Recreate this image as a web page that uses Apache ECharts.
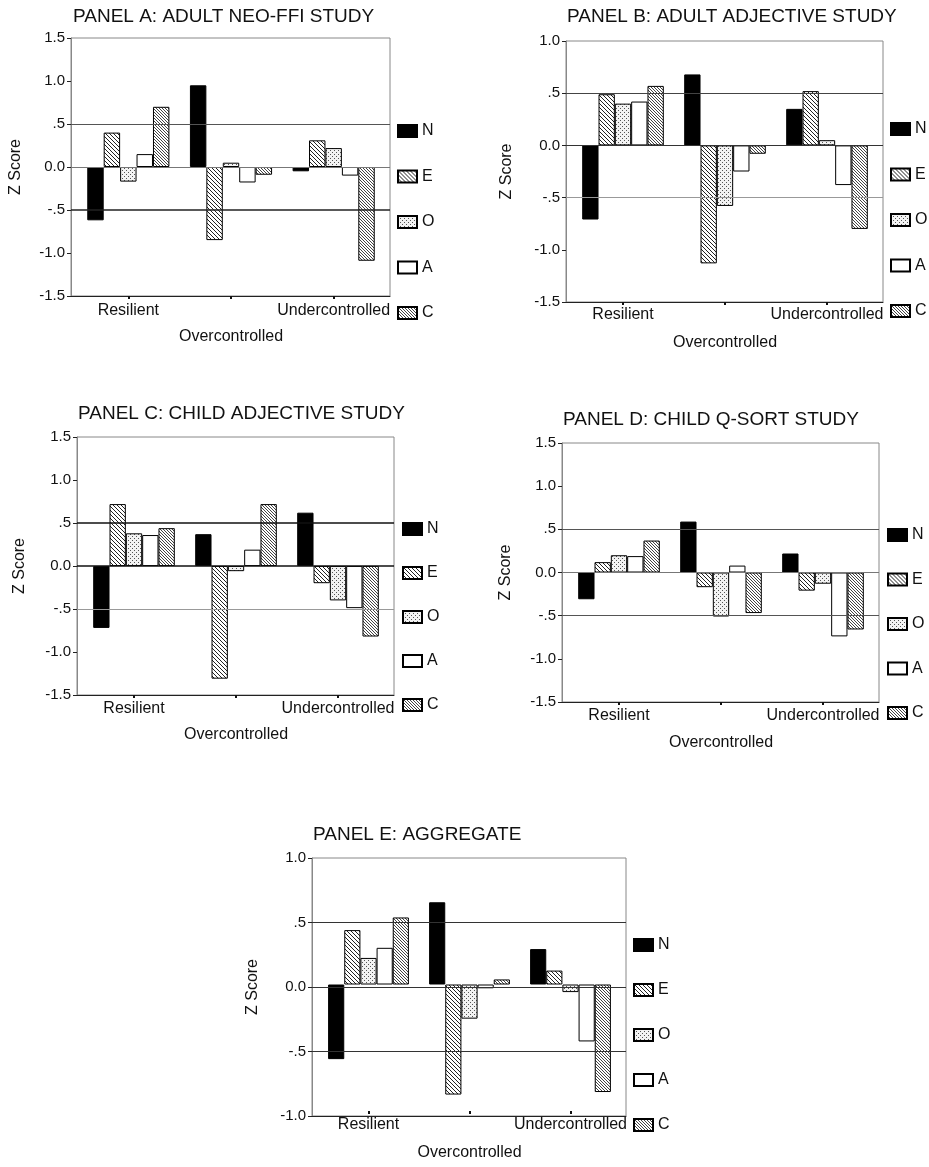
<!DOCTYPE html>
<html>
<head>
<meta charset="utf-8">
<title>Z Score by personality type</title>
<script src="https://cdn.jsdelivr.net/npm/echarts@6/dist/echarts.min.js"></script>
<style>
  html, body { margin: 0; padding: 0; background: #fff; }
  #chart { width: 929px; height: 1167px; }
</style>
</head>
<body>
<div id="chart"></div>
<script>
// categories and trait series
var categories = ['Resilient', 'Overcontrolled', 'Undercontrolled'];
var traits = ['N', 'E', 'O', 'A', 'C'];
var titles = [
  'PANEL A: ADULT NEO-FFI STUDY',
  'PANEL B: ADULT ADJECTIVE STUDY',
  'PANEL C: CHILD ADJECTIVE STUDY',
  'PANEL D: CHILD Q-SORT STUDY',
  'PANEL E: AGGREGATE'
];

// one row per trait (N, E, O, A, C), values in category order
var panelA = [
  [-0.62, 0.95, -0.05],
  [0.40, -0.85, 0.31],
  [-0.17, 0.05, 0.22],
  [0.15, -0.18, -0.10],
  [0.70, -0.09, -1.09]
];
var panelB = [
  [-0.71, 0.68, 0.35],
  [0.49, -1.13, 0.52],
  [0.40, -0.58, 0.05],
  [0.42, -0.25, -0.38],
  [0.57, -0.08, -0.80]
];
var panelC = [
  [-0.72, 0.37, 0.62],
  [0.72, -1.31, -0.20],
  [0.38, -0.06, -0.40],
  [0.36, 0.19, -0.49],
  [0.44, 0.72, -0.82]
];
var panelD = [
  [-0.31, 0.59, 0.22],
  [0.12, -0.17, -0.21],
  [0.20, -0.51, -0.13],
  [0.19, 0.08, -0.74],
  [0.37, -0.47, -0.66]
];
var panelE = [
  [-0.59, 0.65, 0.28],
  [0.43, -0.87, 0.11],
  [0.21, -0.27, -0.06],
  [0.29, -0.03, -0.45],
  [0.53, 0.04, -0.85]
];
var panels = [panelA, panelB, panelC, panelD, panelE];

// y-axis ranges and reference lines
var yMins = [-1.5, -1.5, -1.5, -1.5, -1.0];
var yMaxs = [1.5, 1.0, 1.5, 1.5, 1.0];
var refValues = [0.5, 0, -0.5];

// positions / styling per panel
var layout = [
  { left: 71, top: 38, width: 319, height: 258, nameGap: 47, labMargin: 2, labLine: 26, legLeft: 397, legTop: 123, legStep: 41.5, tLeft: 73, tTop: 7,
    refs: [['#555', 1], ['#777', 1], ['#222', 1.6]] },
  { left: 566, top: 41, width: 317, height: 261, nameGap: 51, labMargin: -1, labLine: 28, legLeft: 890, legTop: 121, legStep: 41.5, tLeft: 567, tTop: 7,
    refs: [['#444', 1], ['#333', 1], ['#999', 1]] },
  { left: 77, top: 437, width: 317, height: 258, nameGap: 49, labMargin: 1, labLine: 26, legLeft: 402, legTop: 521, legStep: 40, tLeft: 78, tTop: 404,
    refs: [['#111', 1.6], ['#111', 1.6], ['#999', 1]] },
  { left: 562, top: 443, width: 317, height: 259, nameGap: 48, labMargin: 0, labLine: 27, legLeft: 887, legTop: 527, legStep: 40.5, tLeft: 563, tTop: 410,
    refs: [['#555', 1], ['#777', 1], ['#555', 1]] },
  { left: 312, top: 858, width: 314, height: 258, nameGap: 51, labMargin: 0, labLine: 28, legLeft: 633, legTop: 937, legStep: 41, tLeft: 313, tTop: 825,
    refs: [['#333', 1], ['#333', 1], ['#333', 1]] }
];

var FONT = '"Liberation Sans", Arial, Helvetica, sans-serif';

function hatch(step, color) {
  var c = document.createElement('canvas');
  c.width = step; c.height = step;
  var g = c.getContext('2d');
  g.fillStyle = '#fff';
  g.fillRect(0, 0, step, step);
  g.strokeStyle = color;
  g.lineWidth = 1;
  g.beginPath();
  g.moveTo(-1, -1); g.lineTo(step + 1, step + 1);
  g.moveTo(step - 1, -1); g.lineTo(step + 1, 1);
  g.moveTo(-1, step - 1); g.lineTo(1, step + 1);
  g.stroke();
  return c;
}

function dots() {
  var c = document.createElement('canvas');
  c.width = 4; c.height = 4;
  var g = c.getContext('2d');
  g.fillStyle = '#f3f3f3';
  g.fillRect(0, 0, 4, 4);
  g.fillStyle = '#555';
  g.fillRect(0, 0, 1, 1);
  g.fillRect(2, 2, 1, 1);
  return c;
}

var fills = {
  N: '#000',
  E: { image: hatch(4, '#222'), repeat: 'repeat' },
  O: { image: dots(), repeat: 'repeat' },
  A: '#fff',
  C: { image: hatch(3, '#444'), repeat: 'repeat' }
};

function fmtZ(v) {
  if (v === 0) return '0.0';
  if (Math.abs(v) < 1) return (v < 0 ? '-' : '') + '.5';
  return v.toFixed(1);
}

var option = {
  animation: false,
  textStyle: { fontFamily: FONT, color: '#111' },
  title: [], legend: [], grid: [], xAxis: [], yAxis: [], series: []
};

panels.forEach(function (p, k) {
  var L = layout[k];
  var fi = 2 * k, di = 2 * k + 1;

  option.title.push({
    text: titles[k], left: L.tLeft, top: L.tTop, padding: 0,
    textStyle: { fontFamily: FONT, fontSize: 19, fontWeight: 'normal', color: '#111' }
  });

  option.legend.push({
    data: traits, orient: 'vertical', left: L.legLeft, top: L.legTop, padding: 0,
    icon: 'rect', itemWidth: 19, itemHeight: 12, itemGap: L.legStep - 12,
    selectedMode: false,
    textStyle: { fontFamily: FONT, fontSize: 16, lineHeight: 12, color: '#111' }
  });

  // frame grid (box, y axis, reference lines)
  option.grid.push({ left: L.left, top: L.top, width: L.width, height: L.height,
    show: true, borderColor: '#888', borderWidth: 1, backgroundColor: 'transparent' });
  // data grid (bars, categories), slightly inset like the original
  option.grid.push({ left: L.left + 6, top: L.top, width: L.width - 11, height: L.height });

  option.xAxis.push({
    gridIndex: fi, type: 'value', min: 0, max: 1,
    axisLabel: { show: false }, axisTick: { show: false }, splitLine: { show: false },
    axisLine: { show: true, onZero: false, lineStyle: { color: '#222', width: 1 } }
  });
  option.xAxis.push({
    gridIndex: di, type: 'category', data: categories, position: 'bottom',
    axisLine: { show: false, onZero: false },
    axisTick: { show: true, alignWithLabel: true, length: 3, lineStyle: { color: '#111', width: 2 } },
    axisLabel: {
      interval: 0, fontFamily: FONT, fontSize: 16, color: '#111',
      margin: L.labMargin, lineHeight: L.labLine,
      formatter: function (v, i) { return i === 1 ? '\n' + v : v; }
    }
  });

  option.yAxis.push({
    gridIndex: fi, type: 'value', min: yMins[k], max: yMaxs[k], interval: 0.5,
    axisLine: { show: true, lineStyle: { color: '#888' } },
    axisTick: { show: true, length: 4, lineStyle: { color: '#222' } },
    axisLabel: { fontFamily: FONT, fontSize: 15, color: '#111', margin: 6, formatter: fmtZ },
    splitLine: { show: false },
    name: 'Z Score', nameLocation: 'middle', nameGap: L.nameGap,
    nameTextStyle: { fontFamily: FONT, fontSize: 16, color: '#111' }
  });
  option.yAxis.push({
    gridIndex: di, type: 'value', min: yMins[k], max: yMaxs[k], interval: 0.5, show: false
  });

  traits.forEach(function (t, j) {
    option.series.push({
      name: t, type: 'bar', xAxisIndex: di, yAxisIndex: di,
      data: p[j], barGap: '0%', barCategoryGap: '20%',
      itemStyle: { color: fills[t], borderColor: '#000', borderWidth: 1 },
      z: 2
    });
  });

  option.series.push({
    type: 'line', xAxisIndex: fi, yAxisIndex: fi, data: [], silent: true, z: 5,
    markLine: {
      silent: true, symbol: ['none', 'none'], label: { show: false }, animation: false,
      data: refValues.map(function (v, i) {
        return { yAxis: v, lineStyle: { color: L.refs[i][0], width: L.refs[i][1], type: 'solid' } };
      })
    }
  });
});

var chart = echarts.init(document.getElementById('chart'));
chart.setOption(option);
</script>
</body>
</html>
